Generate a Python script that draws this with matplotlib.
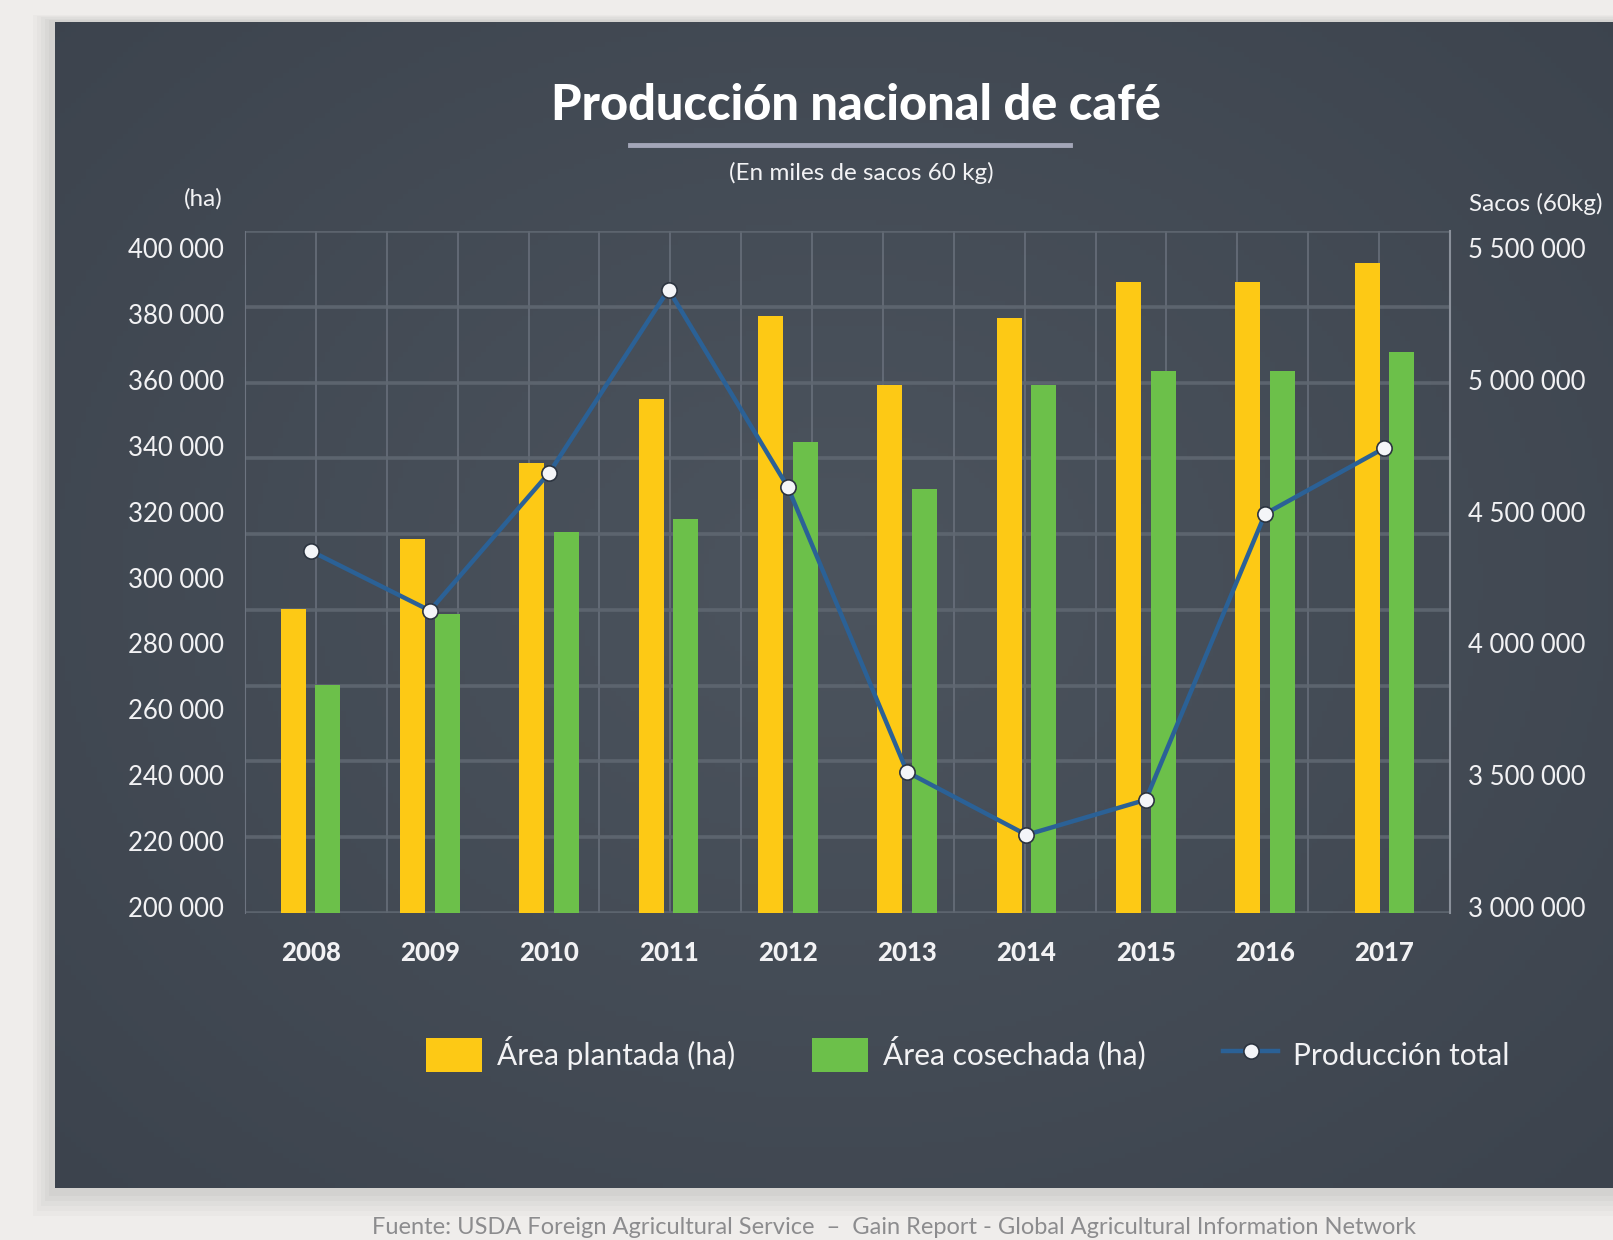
import matplotlib
matplotlib.use("Agg")
import matplotlib.pyplot as plt
import numpy as np
from matplotlib.patches import Rectangle
from matplotlib.lines import Line2D

# data
years = ["2008", "2009", "2010", "2011", "2012", "2013", "2014", "2015", "2016", "2017"]
area_plantada = [290600, 311600, 334700, 354400, 379400, 358400, 378800, 389700, 389700, 395600]
area_cosechada = [267500, 289000, 313800, 317800, 341300, 326900, 358400, 362800, 362800, 368400]
produccion = [4351600, 4125000, 4648400, 5343800, 4593800, 3511700, 3273400, 3406300, 4492200, 4742200]

left_ticks = [200000, 220000, 240000, 260000, 280000, 300000, 320000, 340000, 360000, 380000, 400000]
right_ticks = [3000000, 3500000, 4000000, 4500000, 5000000, 5500000]

YELLOW = "#fdc915"
GREEN = "#6cc04a"
BLUE = "#2b6196"
TXT = "#f2f2f4"

plt.rcParams["font.family"] = ["Lato", "DejaVu Sans"]

W, H = 1613, 1240
fig = plt.figure(figsize=(W / 100, H / 100), dpi=100)
fig.patch.set_facecolor("#efedeb")


def fx(px):
    return px / W


def fy(py):
    return 1 - py / H


def fmt(v):
    return f"{v:,}".replace(",", " ")


# shadow + dark panel with soft radial light
shadow = fig.add_axes([0, 0, 1, 1], zorder=-3)
shadow.set_axis_off()
shadow.set_xlim(0, W)
shadow.set_ylim(H, 0)
for i, a in enumerate([0.05, 0.05, 0.06, 0.07, 0.08]):
    d = 22 - i * 4
    shadow.add_patch(Rectangle((55 - d, 22 - d / 3), W, 1166 + d * 1.6, color="#8f8f94", alpha=a, lw=0))

panel = fig.add_axes([fx(55), fy(1188), 1 - fx(55), (1188 - 22) / H], zorder=-2)
panel.set_axis_off()
gx, gy = np.meshgrid(np.linspace(0, 1, 300), np.linspace(0, 1, 230))
r = np.sqrt(((gx - 0.5) / 0.75) ** 2 + ((gy - 0.48) / 0.8) ** 2)
r = np.clip(r, 0, 1)
c_in = np.array([0x4c, 0x54, 0x5e]) / 255
c_out = np.array([0x3b, 0x42, 0x4c]) / 255
img = c_in[None, None, :] * (1 - r[..., None]) + c_out[None, None, :] * r[..., None]
panel.imshow(img, aspect="auto", extent=[0, 1, 0, 1])

rect = [fx(245), fy(913), fx(1450) - fx(245), (913 - 231) / H]

# background grid (decorative, independent of the ticks)
grid = fig.add_axes(rect, zorder=-1)
grid.set_facecolor("none")
grid.set_xlim(0, 17)
grid.set_ylim(0, 9)
for k in range(18):
    grid.axvline(k, color="#6d7480", lw=1.3, alpha=0.8)
for k in range(10):
    grid.axhline(k, color="#5f6771", lw=2.6, alpha=0.9)
grid.set_axis_off()

ax = fig.add_axes(rect, zorder=1)
ax.set_facecolor("none")
x = np.arange(len(years))
w = 0.21
ax.bar(x - 0.145, area_plantada, w, color=YELLOW, zorder=2, label="Área plantada (ha)")
ax.bar(x + 0.145, area_cosechada, w, color=GREEN, zorder=2, label="Área cosechada (ha)")
ax.set_ylim(198100, 405300)
ax.set_xlim(-0.55, 9.55)
ax.set_yticks(left_ticks)
ax.set_yticklabels([fmt(v) for v in left_ticks])
ax.set_xticks(x)
ax.set_xticklabels(years, fontweight="black")
ax.tick_params(axis="y", length=0, pad=15, labelsize=18.5, labelcolor=TXT)
ax.tick_params(axis="x", length=0, pad=20, labelsize=18.5, labelcolor=TXT)
for s in ["top", "bottom", "right"]:
    ax.spines[s].set_visible(False)
ax.spines["left"].set_color("#6d7480")

ax2 = ax.twinx()
ax2.set_zorder(3)
ax2.plot(x, produccion, color=BLUE, lw=3.2, marker="o", ms=11,
         mfc="#f4f5f8", mec="#2c3440", mew=1.2, zorder=4, label="Producción total")
ax2.set_ylim(2976600, 5566400)
ax2.set_yticks(right_ticks)
ax2.set_yticklabels([fmt(v) for v in right_ticks])
ax2.tick_params(axis="y", length=0, pad=13, labelsize=18.5, labelcolor=TXT)
for s in ["top", "bottom", "left"]:
    ax2.spines[s].set_visible(False)
ax2.spines["right"].set_color("#8a909a")
ax2.spines["right"].set_linewidth(1.5)

# titles
fig.text(fx(856), fy(106), "Producción nacional de café", ha="center", va="center",
         fontsize=35, fontweight="black", color="white")
fig.add_artist(Line2D([fx(630), fx(1070)], [fy(145), fy(145)], color="#a3a6b8", lw=3.5))
fig.text(fx(861), fy(173), "(En miles de sacos 60 kg)", ha="center", va="center",
         fontsize=17.5, color=TXT)
fig.text(fx(223), fy(199), "(ha)", ha="right", va="center", fontsize=17.5, color=TXT)
fig.text(fx(1469), fy(204), "Sacos (60kg)", ha="left", va="center", fontsize=17.5, color=TXT)

# legend
h1, l1 = ax.get_legend_handles_labels()
h2, l2 = ax2.get_legend_handles_labels()
leg = fig.legend(h1 + h2, l1 + l2, loc="center", bbox_to_anchor=(fx(968), fy(1054)),
                 ncol=3, frameon=False, fontsize=21.5, labelcolor=TXT,
                 handlelength=1.85, handleheight=1.4, handletextpad=0.5, columnspacing=2.6)

fig.text(fx(372), fy(1238), "Fuente: USDA Foreign Agricultural Service  –  Gain Report - Global Agricultural Information Network",
         ha="left", va="bottom", fontsize=17, color="#8c8c8e")

fig.savefig("out.png", dpi=100, facecolor=fig.get_facecolor())
